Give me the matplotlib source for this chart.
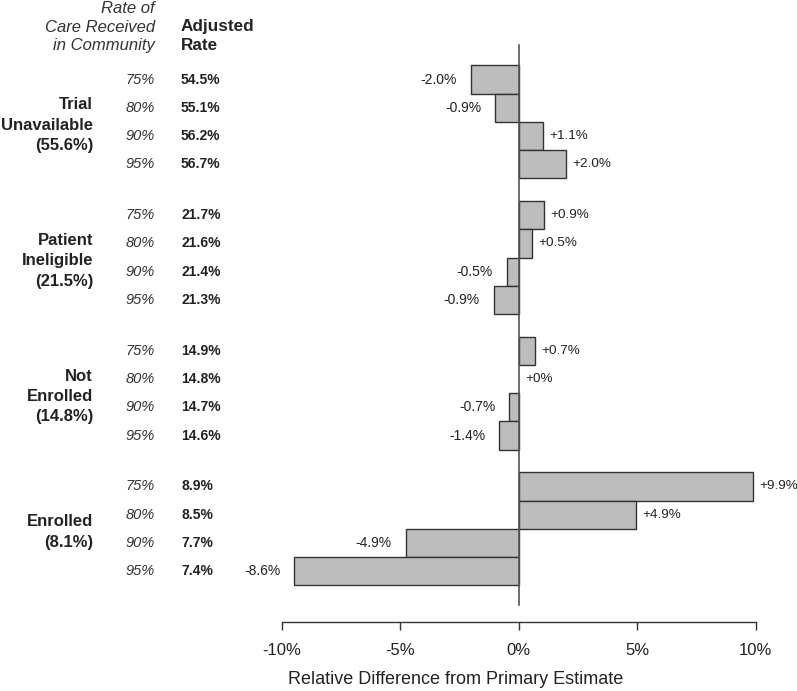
import matplotlib
matplotlib.use("Agg")
import matplotlib.pyplot as plt
import matplotlib.transforms as mtransforms

plt.rcParams['font.family'] = ['Liberation Sans', 'DejaVu Sans']

# ---- data ----
groups = ["Trial\nUnavailable\n(55.6%)", "Patient\nIneligible\n(21.5%)",
          "Not\nEnrolled\n(14.8%)", "Enrolled\n(8.1%)"]
community_rates = ["75%", "80%", "90%", "95%"]
adjusted_rates = [
    ["54.5%", "55.1%", "56.2%", "56.7%"],
    ["21.7%", "21.6%", "21.4%", "21.3%"],
    ["14.9%", "14.8%", "14.7%", "14.6%"],
    ["8.9%", "8.5%", "7.7%", "7.4%"],
]
# bar lengths as drawn (percent)
bar_values = [
    [-2.03, -0.99, 1.01, 2.0],
    [1.08, 0.57, -0.52, -1.07],
    [0.67, 0.0, -0.41, -0.82],
    [9.87, 4.96, -4.78, -9.48],
]
bar_labels = [
    ["-2.0%", "-0.9%", "+1.1%", "+2.0%"],
    ["+0.9%", "+0.5%", "-0.5%", "-0.9%"],
    ["+0.7%", "+0%", "-0.7%", "-1.4%"],
    ["+9.9%", "+4.9%", "-4.9%", "-8.6%"],
]
xticks = [-10, -5, 0, 5, 10]
xticklabels = ["-10%", "-5%", "0%", "5%", "10%"]

W, H = 797, 691
fig = plt.figure(figsize=(W / 100, H / 100), dpi=100)
ax_left, ax_right = 282, 755.7
ax_top, ax_bot = 40, 621.7
ax = fig.add_axes([ax_left / W, 1 - ax_bot / H, (ax_right - ax_left) / W, (ax_bot - ax_top) / H])

GROUP_PITCH = 4.8
ax.set_xlim(-10, 10)
ax.set_ylim(19.19, -1.40)

text_col = "#222222"
bar_face = "#bdbdbd"
bar_edge = "#333333"

for g in range(len(groups)):
    for r in range(len(community_rates)):
        y = g * GROUP_PITCH + r
        v = bar_values[g][r]
        if v != 0:
            ax.barh(y, v, height=1.0, color=bar_face, edgecolor=bar_edge, linewidth=1.0, zorder=2)
        if bar_labels[g][r].startswith("-"):
            ax.annotate(bar_labels[g][r], xy=(v, y), xytext=(-10, 0), textcoords="offset points",
                        ha="right", va="center", fontsize=10, color=text_col, annotation_clip=False)
        else:
            ax.annotate(bar_labels[g][r], xy=(v, y), xytext=(4.5, 0), textcoords="offset points",
                        ha="left", va="center", fontsize=9.7, color=text_col, annotation_clip=False)

# zero line
ax.plot([0, 0], [-1.23, 18.6], color="#555555", linewidth=1.2, zorder=3)

# axis styling
for s in ["top", "right", "left"]:
    ax.spines[s].set_visible(False)
ax.spines["bottom"].set_color("#333333")
ax.spines["bottom"].set_linewidth(1.0)
ax.set_xticks(xticks)
ax.set_xticklabels(xticklabels, fontsize=12, color=text_col)
ax.tick_params(axis="x", length=6, width=1.0, color="#333333", pad=9)
ax.set_yticks([])
fig.text(456 / W, 1 - 680 / H, "Relative Difference from Primary Estimate", ha="center", va="center",
         fontsize=13, color=text_col)

# left-side text columns
trans = mtransforms.blended_transform_factory(fig.transFigure, ax.transData)
for g, gname in enumerate(groups):
    yc = g * GROUP_PITCH + 1.5 + 0.12
    ax.text(93 / W, yc, gname, transform=trans, ha="right", va="center", fontsize=12,
            fontweight="bold", color=text_col, linespacing=1.45)
    for r, cr in enumerate(community_rates):
        y = g * GROUP_PITCH + r
        ax.text(155 / W, y, cr, transform=trans, ha="right", va="center", fontsize=10.5,
                style="italic", color="#333333")
        ax.text(181 / W, y, adjusted_rates[g][r], transform=trans, ha="left", va="center",
                fontsize=10, fontweight="bold", color=text_col)

# headers
fig.text(155 / W, 1 - 27 / H, "Rate of\nCare Received\nin Community", ha="right", va="center",
         fontsize=12, style="italic", color="#333333", linespacing=1.33)
fig.text(181 / W, 1 - 36 / H, "Adjusted\nRate", ha="left", va="center",
         fontsize=12.3, fontweight="bold", color=text_col, linespacing=1.33)

fig.savefig("out.png", dpi=100)
